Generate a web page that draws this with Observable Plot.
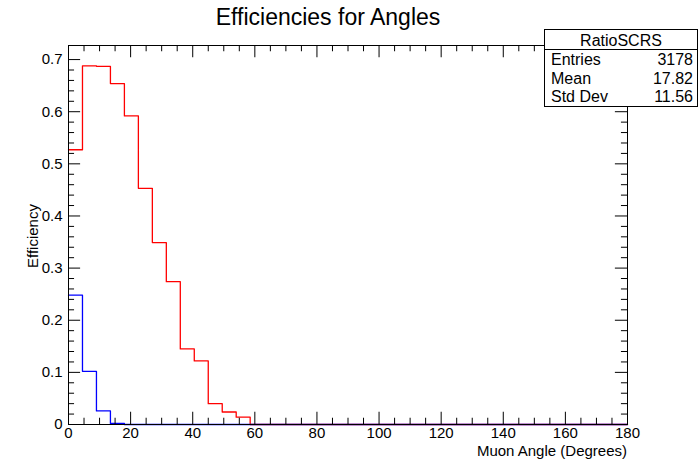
<!DOCTYPE html>
<html><head><meta charset="utf-8">
<script src="https://cdn.jsdelivr.net/npm/d3@7"></script>
<script src="https://cdn.jsdelivr.net/npm/@observablehq/plot@0.6"></script>
<style>
body{margin:0;background:#fff;font-family:"Liberation Sans",Arial,sans-serif}
#wrap{position:relative;width:698px;height:471px}
#title{position:absolute;left:0;width:656px;top:4px;text-align:center;font-size:23px}
#xlab{position:absolute;right:71px;top:442px;font-size:15px}
#ylab{position:absolute;left:24px;top:268px;font-size:15px;transform:rotate(-90deg);transform-origin:0 0}
#stats{position:absolute;left:544px;top:29px;width:152px;height:76px;border:1px solid #000;background:#fff;font-size:16px}
#stats .h{text-align:center;border-bottom:1px solid #000;height:19px;line-height:21px}
#stats .r{display:flex;justify-content:space-between;padding:0 4px 0 6px;height:18.5px;line-height:19px}
</style></head><body>
<div id="wrap"><div id="chart"></div>
<div id="title">Efficiencies for Angles</div>
<div id="xlab">Muon Angle (Degrees)</div>
<div id="ylab">Efficiency</div>
<div id="stats"><div class="h">RatioSCRS</div>
<div class="r"><span>Entries</span><span>3178</span></div>
<div class="r"><span>Mean</span><span>17.82</span></div>
<div class="r"><span>Std Dev</span><span>11.56</span></div></div>
</div>
<script>
const binWidth = 4.5;
const redValues = [0.527,0.688,0.687,0.654,0.592,0.453,0.349,0.274,0.145,0.122,0.040,0.024,0.014];
const blueValues = [0.248,0.102,0.026,0.002];
const nBins = 40;
const xMajor = [0,20,40,60,80,100,120,140,160,180];
const yMajor = [0,0.1,0.2,0.3,0.4,0.5,0.6,0.7];

function steps(vals){
  const pts=[];
  for(let i=0;i<nBins;i++) pts.push({x:i*binWidth,y:vals[i]||0});
  pts.push({x:nBins*binWidth,y:0});
  return pts;
}
const red = steps(redValues), blue = steps(blueValues);
const xMinor = d3.range(0,181,5).filter(v=>v%20);
const yMinor = d3.range(0,0.72,0.02).map(v=>+v.toFixed(2)).filter(v=>Math.round(v*100)%10);
const ymax=0.727, xl=3.9, xs=1.95, yl=0.0235, ys=0.012;
const plot = Plot.plot({
  width:698,height:471,marginLeft:68,marginRight:71,marginTop:45,marginBottom:47,
  x:{domain:[0,180]}, y:{domain:[0,ymax]},
  style:{fontFamily:"Liberation Sans, Arial, sans-serif",fontSize:"15px",color:"#000"},
  marks:[
    Plot.line(red,{x:"x",y:"y",curve:"step-after",stroke:"#ff0000",strokeWidth:1.3}),
    Plot.line(blue,{x:"x",y:"y",curve:"step-after",stroke:"#0000ff",strokeWidth:1.3}),
    Plot.frame({stroke:"#000"}),
    Plot.ruleX(xMajor,{y1:0,y2:yl,stroke:"#000"}),
    Plot.ruleX(xMinor,{y1:0,y2:ys,stroke:"#000"}),
    Plot.ruleX(xMajor,{y1:ymax-yl,y2:ymax,stroke:"#000"}),
    Plot.ruleX(xMinor,{y1:ymax-ys,y2:ymax,stroke:"#000"}),
    Plot.ruleY(yMajor,{x1:0,x2:xl,stroke:"#000"}),
    Plot.ruleY(yMinor,{x1:0,x2:xs,stroke:"#000"}),
    Plot.ruleY(yMajor,{x1:180-xl,x2:180,stroke:"#000"}),
    Plot.ruleY(yMinor,{x1:180-xs,x2:180,stroke:"#000"}),
    Plot.axisX({ticks:xMajor,tickSize:0,tickPadding:3,fontSize:15,label:null}),
    Plot.axisY({ticks:yMajor,tickSize:0,tickPadding:6,fontSize:15,tickFormat:d=>d===0?"0":String(d),label:null})
  ]
});
document.getElementById("chart").append(plot);
</script></body></html>
